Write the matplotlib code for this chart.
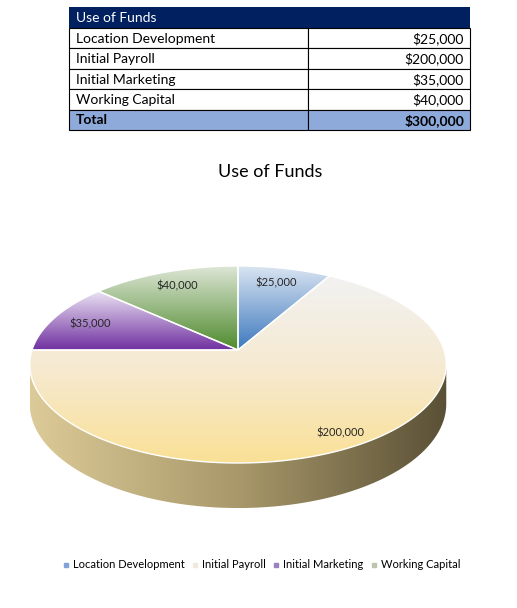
import numpy as np
import matplotlib
matplotlib.use("Agg")
import matplotlib.pyplot as plt
from matplotlib.patches import Polygon, Rectangle
from matplotlib.colors import LinearSegmentedColormap
from matplotlib.lines import Line2D

plt.rcParams['font.family'] = ['Lato', 'DejaVu Sans']

# data
categories = ['Location Development', 'Initial Payroll', 'Initial Marketing', 'Working Capital']
values = [25000, 200000, 35000, 40000]
title = 'Use of Funds'

# gradient colours for each slice (top -> bottom) and the side wall (left -> right)
top_cols = [['#dce6f2', '#3c78be'],
            ['#f2f2f2', '#f6ead0', '#fae096'],
            ['#ebe3f3', '#7030a0'],
            ['#dfe7d8', '#4e8a2c']]
side_cols = [['#9db8dc', '#2c5a8c'],
             ['#dccb98', '#a8986a', '#5a5036'],
             ['#b49ccc', '#4a1f6a'],
             ['#a9c096', '#355e1e']]
legend_cols = ['#7fa3d6', '#efeadb', '#9a82c0', '#bcc4b0']

W, H = 517, 608
fig = plt.figure(figsize=(W / 100, H / 100), dpi=100)
ax = fig.add_axes([0, 0, 1, 1])


def fmt(v):
    return '${:,.0f}'.format(v)


# ---- table ----
tx0, tdiv, tx1 = 69, 308, 470
ty0, hdr_h, row_h = 7, 21, 20.4
ax.add_patch(Rectangle((tx0, ty0), tx1 - tx0, hdr_h, facecolor='#002060', edgecolor='none'))
ax.text(tx0 + 7, ty0 + hdr_h / 2 + 0.5, title, color='white', fontsize=10, va='center', ha='left')
y = ty0 + hdr_h
rows = list(zip(categories, values)) + [('Total', sum(values))]
for i, (name, v) in enumerate(rows):
    last = i == len(rows) - 1
    fc = '#8eaadb' if last else 'white'
    ax.add_patch(Rectangle((tx0, y), tdiv - tx0, row_h, facecolor=fc, edgecolor='black', lw=0.8))
    ax.add_patch(Rectangle((tdiv, y), tx1 - tdiv, row_h, facecolor=fc, edgecolor='black', lw=0.8))
    fw = 'bold' if last else 'normal'
    ax.text(tx0 + 7, y + row_h / 2 + 0.5, name, fontsize=10, va='center', ha='left', fontweight=fw, color='black')
    ax.text(tx1 - 6, y + row_h / 2 + 0.5, fmt(v), fontsize=10, va='center', ha='right', fontweight=fw, color='black')
    y += row_h

# ---- chart title ----
ax.text(270, 172, title, fontsize=13, ha='center', va='center', color='black')

# ---- 3d pie ----
cx, cy = 238, 350
A, B, k = 206, 96.4, 0.147
depth = 38.4


def proj(th, r=1.0):
    X = r * np.cos(th)
    Z = r * np.sin(th)
    w = 1 + k * Z
    return cx + A * X / w, cy - B * Z / w, w


def grad_fill(verts, colors, horizontal=False, z=1):
    poly = Polygon(verts, closed=True, facecolor='none', edgecolor='none', zorder=z)
    ax.add_patch(poly)
    x0, y0 = verts.min(0)
    x1, y1 = verts.max(0)
    cmap = LinearSegmentedColormap.from_list('g', colors)
    g = np.linspace(0, 1, 256)
    arr = g[None, :] if horizontal else g[:, None]
    im = ax.imshow(arr, cmap=cmap, extent=(x0, x1, y1, y0), origin='upper',
                   aspect='auto', interpolation='bilinear', zorder=z)
    im.set_clip_path(poly)


total = sum(values)
start = np.pi / 2
slices = []
for v in values:
    span = v / total * 2 * np.pi
    slices.append((start, start - span))
    start -= span

# side walls first
for (a0, a1), sc in zip(slices, side_cols):
    th = np.linspace(a0, a1, 400)
    th = th[np.sin(th) <= -k]
    if len(th) < 2:
        continue
    xs, ys, w = proj(th)
    top = np.column_stack([xs, ys])
    bot = np.column_stack([xs, ys + depth / w])[::-1]
    grad_fill(np.vstack([top, bot]), sc, horizontal=True, z=1)

# top faces
for (a0, a1), tc in zip(slices, top_cols):
    th = np.linspace(a0, a1, 300)
    xs, ys, _ = proj(th)
    verts = np.vstack([[cx, cy], np.column_stack([xs, ys])])
    grad_fill(verts, tc, z=2)
    ax.add_patch(Polygon(verts, closed=True, facecolor='none', edgecolor='white', lw=1.0, zorder=3))

# data labels
for (a0, a1), v in zip(slices, values):
    r = 0.8 if v / total < 0.5 else 0.88
    lx, ly, _ = proj((a0 + a1) / 2, r)
    ax.text(lx, ly, fmt(v), fontsize=8, ha='center', va='center', color='#262626', zorder=4)

# legend
handles = [Line2D([], [], marker='s', ls='', markersize=3.5, markerfacecolor=c,
                  markeredgecolor=c) for c in legend_cols]
fig.legend(handles, categories, ncol=4, loc='center', bbox_to_anchor=(261 / W, 1 - 565 / H),
           frameon=False, fontsize=8, handletextpad=0.25, columnspacing=0.5, handlelength=0.8)

ax.set_xlim(0, W)
ax.set_ylim(H, 0)
ax.axis('off')
fig.savefig('out.png', dpi=100, facecolor='white')
